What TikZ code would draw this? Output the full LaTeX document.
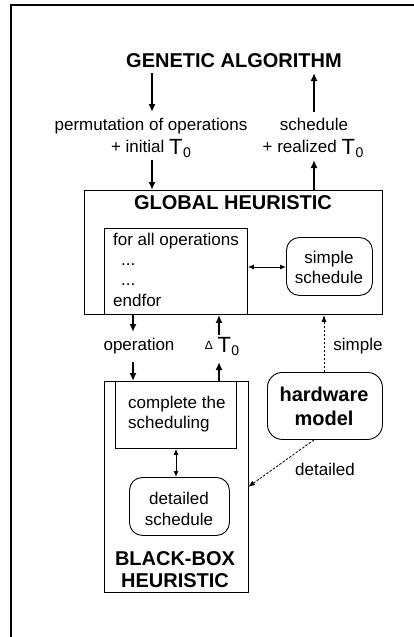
\documentclass[tikz,border=0pt]{standalone}
\usepackage{fontspec}
\setmainfont{Liberation Sans}
\usetikzlibrary{arrows.meta}
\newcommand\Tz{\raisebox{-2.5pt}{\fontsize{22}{22}\selectfont T}\kern0.5pt\raisebox{-5pt}{\fontsize{14}{14}\selectfont 0}}
\begin{document}
\begin{tikzpicture}[x=1pt,y=-1pt,
  lbl/.style={font=\fontsize{17}{20}\selectfont, anchor=base, inner sep=0},
  lblw/.style={lbl, anchor=base west},
  ttl/.style={font=\bfseries\fontsize{20}{22}\selectfont, anchor=base, inner sep=0},
  box/.style={draw, line width=0.9pt, inner sep=0, anchor=north west},
  rbox/.style={box, rounded corners=13pt},
  arr/.style={line width=1.6pt, -{Latex[length=8pt,width=7pt]}},
  darr/.style={line width=1pt, {Latex[length=6pt,width=5pt]}-{Latex[length=6pt,width=5pt]}},
  dsh/.style={line width=0.8pt, dash pattern=on 2.5pt off 1.5pt, -{Latex[length=7pt,width=5pt]}}]
\useasboundingbox (0,0) rectangle (414,637);
% frame
\draw[line width=2pt] (11,637) -- (11,5) -- (414,5);

% boxes
\node[box, minimum width=298pt, minimum height=124pt] (gh) at (84,190) {};
\node[box, minimum width=143pt, minimum height=86pt] (loop) at (104,228) {};
\node[rbox, minimum width=86pt, minimum height=58pt] (ss) at (286,237) {};
\node[box, minimum width=144pt, minimum height=211pt] (bb) at (104,381) {};
\node[box, minimum width=121pt, minimum height=67pt] (cs) at (115,381) {};
\node[rbox, minimum width=100pt, minimum height=58pt] (ds) at (129,477) {};
\node[rbox, rounded corners=15pt, minimum width=115pt, minimum height=67pt] (hw) at (267,372) {};

% texts
\node[ttl] (ga) at (234,67) {GENETIC ALGORITHM};
\node[lbl] (perm) at (151,130) {permutation of operations};
\node[lbl] (init) at (151,152) {+ initial \Tz};
\node[lbl] (sched) at (314,130) {schedule};
\node[lbl] (real) at (313,152) {+ realized \Tz};
\node[ttl] (ghl) at (233,209) {GLOBAL HEURISTIC};
\node[lblw] (f1) at (113,245) {for all operations};
\node[lblw] (f2) at (121,265) {...};
\node[lblw] (f3) at (121,285) {...};
\node[lblw] (f4) at (113,306) {endfor};
\node[lbl] (ss1) at (329,263) {simple};
\node[lbl] (ss2) at (329,283) {schedule};
\node[lbl] (op) at (139,350) {operation};
\node[lbl] (dt) at (222,350) {\raisebox{1pt}{\fontsize{12}{12}\selectfont Δ} \Tz};
\node[lbl] (sl) at (358,350) {simple};
\node[lblw] (c1) at (128,408) {complete the};
\node[lblw] (c2) at (128,428) {scheduling};
\node[lbl] (d1) at (179,504) {detailed};
\node[lbl] (d2) at (179,525) {schedule};
\node[ttl] (bb1) at (175,565) {BLACK-BOX};
\node[ttl] (bb2) at (175,587) {HEURISTIC};
\node[ttl] (hw1) at (324,401) {hardware};
\node[ttl] (hw2) at (324,425) {model};
\node[lbl] (dl) at (325,475) {detailed};

% connector coordinates
\coordinate (a1) at (152,73);  \coordinate (a2) at (152,112);
\coordinate (a3) at (152,160);
\coordinate (b1) at (314,73);  \coordinate (b2) at (314,112);
\coordinate (b3) at (314,160);
\coordinate (o1) at (133,332); \coordinate (o2) at (133,362);
\coordinate (t1) at (219,335); \coordinate (t2) at (219,362);
\coordinate (hd) at (248,487);

\draw[arr] (a1) -- (a2);
\draw[arr] (a3) -- (a3 |- gh.north);
\draw[arr] (b2) -- (b1);
\draw[arr] (b3 |- gh.north) -- (b3);
\draw[darr] (loop.east |- 0,267) -- (ss.west |- 0,267);
\draw[arr] (o1 |- gh.south) -- (o1);
\draw[arr] (o2) -- (o2 |- cs.north);
\draw[arr] (t1) -- (t1 |- gh.south);
\draw[arr] (t2 |- cs.north) -- (t2);
\draw[darr] (cs.south -| 176,0) -- (ds.north -| 176,0);
\draw[dsh] (hw.north -| 324,0) -- (gh.south -| 324,0);
\draw[dsh] (hw.south -| 314,0) -- (hd);
\end{tikzpicture}
\end{document}
